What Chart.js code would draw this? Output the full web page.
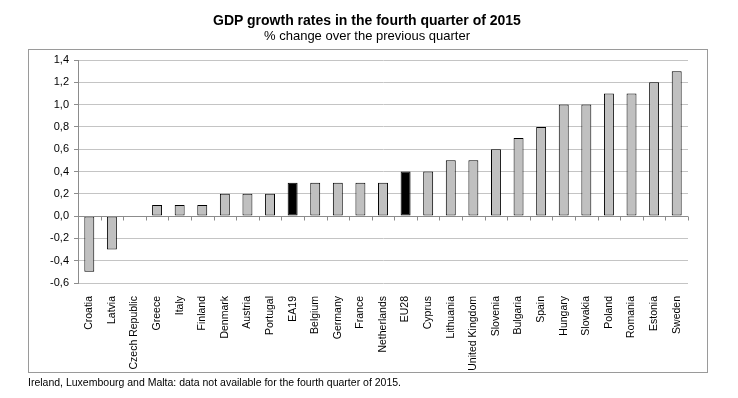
<!DOCTYPE html>
<html><head><meta charset="utf-8">
<script src="https://cdn.jsdelivr.net/npm/chart.js@4"></script>
<style>
html,body{margin:0;padding:0;background:#fff;}
#wrap{position:relative;width:738px;height:398px;overflow:hidden;}
canvas{position:absolute;left:0;top:0;}
.t{position:absolute;left:0;width:734px;text-align:center;font-family:"Liberation Sans",Arial,sans-serif;color:#000;white-space:nowrap;}
#title{top:12px;font-size:14px;font-weight:bold;}
#sub{top:28px;font-size:13px;}
#foot{position:absolute;left:28px;top:376px;font-family:"Liberation Sans",Arial,sans-serif;font-size:10.5px;color:#000;white-space:nowrap;}
</style></head>
<body><div id="wrap">
<canvas id="c" width="738" height="398"></canvas>
<div class="t" id="title">GDP growth rates in the fourth quarter of 2015</div>
<div class="t" id="sub">% change over the previous quarter</div>
<div id="foot">Ireland, Luxembourg and Malta: data not available for the fourth quarter of 2015.</div>
</div>
<script>
const categories = ["Croatia","Latvia","Czech Republic","Greece","Italy","Finland","Denmark","Austria","Portugal","EA19","Belgium","Germany","France","Netherlands","EU28","Cyprus","Lithuania","United Kingdom","Slovenia","Bulgaria","Spain","Hungary","Slovakia","Poland","Romania","Estonia","Sweden"];
const growth = [-0.5,-0.3,0.0,0.1,0.1,0.1,0.2,0.2,0.2,0.3,0.3,0.3,0.3,0.3,0.4,0.4,0.5,0.5,0.6,0.7,0.8,1.0,1.0,1.1,1.1,1.2,1.3];
const aggregates = ["EA19","EU28"];
const yTicks = [-0.6,-0.4,-0.2,0.0,0.2,0.4,0.6,0.8,1.0,1.2,1.4];

const frame = {
  id:'frame',
  beforeDraw(chart){
    const ctx = chart.ctx;
    ctx.save();
    ctx.strokeStyle = '#9a9a9a';
    ctx.lineWidth = 1;
    ctx.strokeRect(28.5,49.5,679,323);
    ctx.restore();
  },
  afterDatasetsDraw(chart){
    const y = chart.scales.y, ctx = chart.ctx;
    const y0 = Math.round(y.getPixelForValue(0)) + 0.5;
    ctx.save();
    ctx.strokeStyle = '#8c8c8c';
    ctx.lineWidth = 1;
    ctx.beginPath();
    ctx.moveTo(chart.chartArea.left, y0);
    ctx.lineTo(chart.chartArea.right, y0);
    const n = categories.length;
    const w = (chart.chartArea.right - chart.chartArea.left) / n;
    for (let i = 0; i <= n; i++) {
      const px = Math.round(chart.chartArea.left + i * w) + 0.5;
      ctx.moveTo(px, y0);
      ctx.lineTo(px, y0 + 4);
    }
    ctx.stroke();
    ctx.restore();
  }
};

new Chart(document.getElementById('c'), {
  type: 'bar',
  data: {
    labels: categories,
    datasets: [{
      data: growth,
      backgroundColor: categories.map(c => aggregates.includes(c) ? '#000000' : '#c0c0c0'),
      borderColor: '#000000',
      borderWidth: 1,
      borderSkipped: false,
      categoryPercentage: 1,
      barPercentage: 0.44
    }]
  },
  options: {
    responsive: false,
    animation: false,
    events: [],
    layout: { padding: { left: 28, right: 50, top: 60, bottom: 0 } },
    plugins: { legend: { display: false }, title: { display: false }, tooltip: { enabled: false } },
    scales: {
      x: {
        grid: { display: false },
        border: { display: false },
        ticks: {
          color: '#000',
          font: { family: 'Liberation Sans', size: 10.5 },
          maxRotation: 90, minRotation: 90, autoSkip: false, padding: 5
        },
        afterFit(s){ s.height = 115; }
      },
      y: {
        min: -0.6, max: 1.4,
        afterBuildTicks(s){ s.ticks = yTicks.map(v => ({ value: v })); },
        grid: { color: '#c4c4c4', lineWidth: 1, tickLength: 4, tickColor: '#8c8c8c' },
        border: { display: true, color: '#8c8c8c' },
        ticks: {
          color: '#000',
          font: { family: 'Liberation Sans', size: 11 },
          padding: 5,
          callback: v => v.toFixed(1).replace('.', ',')
        },
        afterFit(s){ s.width = 50; }
      }
    }
  },
  plugins: [frame]
});
</script>
</body></html>
